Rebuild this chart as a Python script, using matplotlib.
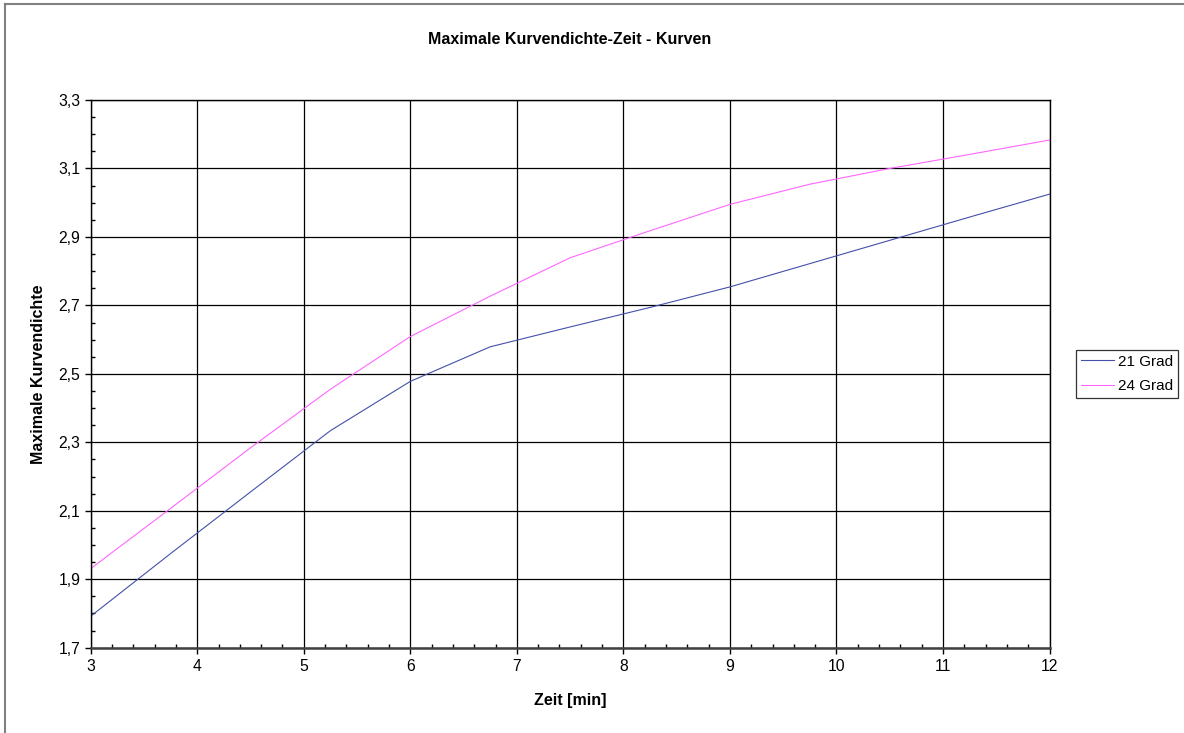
import numpy as np
import matplotlib.pyplot as plt
from matplotlib.ticker import MultipleLocator, FuncFormatter
from matplotlib.lines import Line2D

plt.rcParams['font.family'] = ['Liberation Sans', 'DejaVu Sans']

# Daten
zeit = [3, 3.75, 4.5, 5.25, 6, 6.75, 7.5, 8.25, 9, 9.75, 10.5, 11.25, 12]
grad21 = [1.792, 1.975, 2.155, 2.334, 2.478, 2.579, 2.637, 2.694, 2.754,
          2.822, 2.890, 2.958, 3.025]
grad24 = [1.931, 2.107, 2.284, 2.455, 2.609, 2.727, 2.839, 2.918, 2.995,
          3.054, 3.100, 3.141, 3.183]
serien = ['21 Grad', '24 Grad']
farben = ['#4450aa', '#ff66ff']
y_ticks = [1.7, 1.9, 2.1, 2.3, 2.5, 2.7, 2.9, 3.1, 3.3]

W, H = 1184, 733
fig = plt.figure(figsize=(W / 100, H / 100), dpi=100)
ax = fig.add_axes([90.7 / W, 1 - 647.7 / H, (1049.5 - 90.7) / W, (647.7 - 100) / H])

ax.plot(zeit, grad21, color=farben[0], lw=0.8, label=serien[0])
ax.plot(zeit, grad24, color=farben[1], lw=0.8, label=serien[1])

ax.set_xlim(3, 12)
ax.set_ylim(1.7, 3.3)
ax.xaxis.set_major_locator(MultipleLocator(1))
ax.xaxis.set_minor_locator(MultipleLocator(0.2))
ax.set_yticks(y_ticks)
ax.yaxis.set_minor_locator(MultipleLocator(0.05))
ax.yaxis.set_major_formatter(FuncFormatter(lambda v, p: f'{v:.1f}'.replace('.', ',')))
ax.tick_params(which='major', direction='out', length=4, width=1, labelsize=11.3, colors='black')
ax.tick_params(which='minor', direction='in', length=3, width=1)
ax.tick_params(axis='x', pad=4)
ax.grid(True, which='major', color='black', lw=0.9)
for s in ax.spines.values():
    s.set_color('black')
    s.set_linewidth(1)
ax.spines['bottom'].set_linewidth(1.8)
ax.spines['bottom'].set_color('#404040')

ax.set_title('Maximale Kurvendichte-Zeit - Kurven', fontsize=11.5, fontweight='bold', pad=40)
ax.set_xlabel('Zeit [min]', fontsize=11.5, fontweight='bold', labelpad=14)
ax.set_ylabel('Maximale Kurvendichte', fontsize=11.5, fontweight='bold', labelpad=9)

leg = ax.legend(loc='center left', bbox_to_anchor=(1075.7 / W, 1 - 374 / H),
                bbox_transform=fig.transFigure, fontsize=11, frameon=True,
                fancybox=False, edgecolor='black', handlelength=2.15,
                handletextpad=0.25, borderpad=0.34, labelspacing=0.68, borderaxespad=0)
leg.get_frame().set_linewidth(0.9)

# Rahmen um das Diagramm
fig.add_artist(Line2D([5 / W, 1], [1 - 4 / H, 1 - 4 / H], transform=fig.transFigure, color='#808080', lw=1.5))
fig.add_artist(Line2D([5 / W, 5 / W], [0, 1 - 4 / H], transform=fig.transFigure, color='#808080', lw=1.5))

fig.savefig('out.png', dpi=100)
